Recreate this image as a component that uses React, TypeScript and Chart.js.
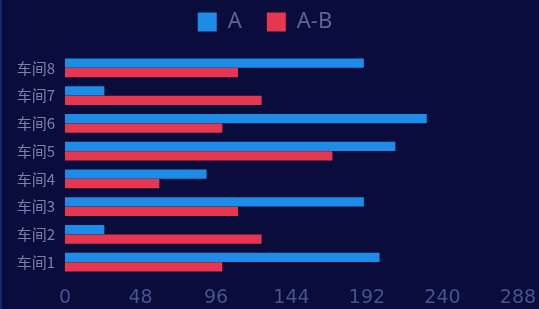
import React, { useEffect, useRef } from "react";
import { Chart, registerables } from "chart.js";

Chart.register(...registerables);

const categories = ["车间8", "车间7", "车间6", "车间5", "车间4", "车间3", "车间2", "车间1"];
const seriesA = [190, 25, 230, 210, 90, 190, 25, 200];
const seriesAB = [110, 125, 100, 170, 60, 110, 125, 100];
const xTicks = [0, 48, 96, 144, 192, 240, 288];

const BG = "#0a0d3b";

const bgPlugin = {
  id: "bgFill",
  beforeDraw(chart: any) {
    const { ctx, width, height } = chart;
    ctx.save();
    ctx.fillStyle = BG;
    ctx.fillRect(0, 0, width, height);
    ctx.fillStyle = "#10296e";
    ctx.fillRect(0, 0, 2, height);
    ctx.restore();
  },
};

const legendFitPlugin = {
  id: "legendFit",
  beforeInit(chart: any) {
    const lg = chart.legend;
    if (lg) {
      const orig = lg.fit;
      lg.fit = function () {
        orig.call(this);
        this.height = 68;
      };
    }
  },
  afterLayout(chart: any) {
    const lg = chart.legend;
    if (lg) {
      lg.left += 6;
      lg.right += 6;
    }
  },
};

export default function App() {
  const ref = useRef<HTMLCanvasElement | null>(null);
  useEffect(() => {
    document.body.style.margin = "0";
    const ctx = ref.current!.getContext("2d")!;
    const chart = new Chart(ctx, {
      type: "bar",
      data: {
        labels: categories,
        datasets: [
          {
            label: "A",
            data: seriesA,
            backgroundColor: "#1d8ce6",
            borderWidth: 0,
            categoryPercentage: 0.7,
            barPercentage: 0.95,
          },
          {
            label: "A-B",
            data: seriesAB,
            backgroundColor: "#e6374f",
            borderWidth: 0,
            categoryPercentage: 0.7,
            barPercentage: 0.95,
          },
        ],
      },
      options: {
        indexAxis: "y",
        animation: false,
        responsive: false,
        maintainAspectRatio: false,
        layout: { padding: { top: -14, right: 21, bottom: 0, left: 0 } },
        plugins: {
          legend: {
            display: true,
            position: "top",
            labels: {
              boxWidth: 19,
              boxHeight: 19,
              padding: 25,
              color: "#5e6494",
              font: { family: "'Noto Sans', sans-serif", size: 22 },
            },
          },
          tooltip: { enabled: false },
        },
        scales: {
          x: {
            min: 0,
            max: 288,
            afterBuildTicks(axis: any) {
              axis.ticks = xTicks.map((v) => ({ value: v }));
            },
            afterFit(axis: any) {
              axis.height = 33;
              axis.paddingRight = 0;
              axis.paddingLeft = 0;
            },
            grid: { display: false, drawTicks: false },
            border: { display: false },
            ticks: {
              padding: 11,
              maxRotation: 0,
              color: "#48528c",
              font: { family: "'DejaVu Sans', sans-serif", size: 19 },
            },
          },
          y: {
            afterFit(axis: any) {
              axis.width = 65;
            },
            grid: { display: false, drawTicks: false },
            border: { display: false },
            ticks: {
              padding: 10,
              color: "#7a80a8",
              font: { family: "'Noto Sans CJK SC', sans-serif", size: 15 },
            },
          },
        },
      },
      plugins: [bgPlugin, legendFitPlugin],
    } as any);
    return () => chart.destroy();
  }, []);
  return (
    <div style={{ width: 539, height: 309, background: BG }}>
      <canvas ref={ref} width={539} height={309} style={{ display: "block" }} />
    </div>
  );
}
